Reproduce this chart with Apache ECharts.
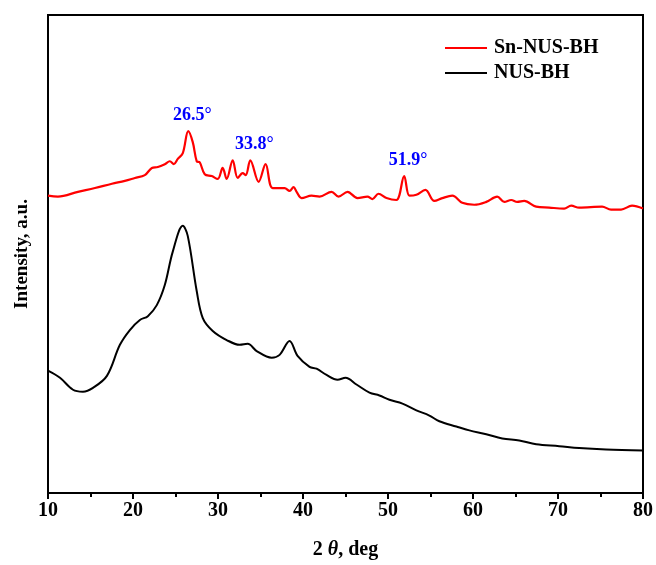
<!DOCTYPE html>
<html>
<head>
<meta charset="utf-8">
<script src="https://cdn.jsdelivr.net/npm/echarts@6/dist/echarts.min.js"></script>
<style>
  html, body { margin: 0; padding: 0; background: #fff; }
  #chart { width: 656px; height: 565px; }
</style>
</head>
<body>
<div id="chart"></div>
<script>
// XRD patterns: 2θ (deg) and intensity (a.u.)
const nusTheta = [10.0, 11.41, 12.94, 14.11, 15.29, 16.93, 18.46, 19.63, 20.81, 21.75, 22.80, 23.74, 24.68, 25.86, 26.44, 27.50, 28.21, 29.38, 31.02, 32.55, 33.49, 34.55, 36.31, 37.25, 38.42, 39.36, 40.77, 41.59, 42.77, 44.06, 45.00, 46.29, 47.82, 48.99, 50.17, 51.70, 53.34, 54.87, 56.04, 58.04, 59.57, 61.56, 63.44, 65.44, 67.43, 70.14, 72.49, 75.66, 80.0];
const nusIntensity = [25.6, 24.1, 21.6, 21.2, 22.0, 24.5, 31.0, 34.1, 36.2, 37.0, 39.3, 43.5, 50.5, 55.9, 53.8, 42.2, 36.6, 33.9, 32.0, 31.0, 31.2, 29.7, 28.3, 28.9, 31.8, 28.7, 26.4, 26.0, 24.7, 23.7, 24.1, 22.7, 21.0, 20.4, 19.5, 18.7, 17.3, 16.2, 15.0, 13.9, 13.1, 12.3, 11.4, 11.0, 10.2, 9.8, 9.4, 9.1, 8.9];

const snTheta = [10.0, 11.17, 13.52, 15.52, 17.52, 19.04, 20.22, 21.39, 22.22, 22.92, 23.74, 24.33, 24.80, 25.27, 25.86, 26.5, 27.03, 27.50, 27.85, 28.44, 29.26, 29.97, 30.55, 31.02, 31.73, 32.32, 32.90, 33.26, 33.8, 34.78, 35.60, 36.43, 37.84, 38.42, 38.89, 39.25, 39.83, 41.01, 41.95, 43.36, 44.18, 45.24, 46.41, 47.58, 48.17, 48.88, 49.82, 50.99, 51.9, 52.52, 53.34, 54.40, 55.45, 56.39, 57.57, 58.74, 60.15, 61.56, 62.85, 63.68, 64.50, 65.20, 66.03, 67.43, 68.96, 70.72, 71.55, 72.49, 75.19, 76.24, 77.42, 78.71, 80.0];
const snIntensity = [62.2, 62.0, 63.0, 63.8, 64.7, 65.3, 65.9, 66.5, 68.0, 68.2, 68.8, 69.4, 68.8, 69.9, 71.1, 75.7, 73.4, 69.4, 69.2, 66.7, 66.3, 65.7, 68.0, 65.7, 69.6, 65.9, 66.9, 66.5, 69.6, 65.1, 68.8, 63.8, 63.8, 63.2, 64.0, 63.0, 61.7, 62.2, 62.0, 63.0, 62.0, 63.0, 61.7, 62.0, 61.5, 62.6, 61.7, 61.3, 66.3, 62.2, 62.4, 63.4, 61.1, 61.7, 62.2, 60.7, 60.3, 60.9, 62.0, 60.9, 61.3, 60.9, 61.1, 59.9, 59.7, 59.5, 60.1, 59.7, 59.9, 59.3, 59.3, 60.1, 59.5];

// Labelled Sn-NUS-BH reflections (2θ, deg)
const peakPositions = [26.5, 33.8, 51.9];

const xTicks = { min: 10, max: 80, interval: 10 };

const FONT = '"Liberation Serif", "Times New Roman", serif';

const zip = (xs, ys) => xs.map((x, i) => [x, ys[i]]);
const peakMarks = peakPositions.map(p => {
  const i = snTheta.indexOf(p);
  return { coord: [p, snIntensity[i]], value: p };
});

const chart = echarts.init(document.getElementById('chart'), null, { renderer: 'canvas' });
chart.setOption({
  animation: false,
  backgroundColor: '#fff',
  grid: {
    left: 48, right: 12, top: 15, bottom: 69,
    show: true, borderColor: '#000', borderWidth: 2, backgroundColor: 'transparent'
  },
  legend: {
    orient: 'vertical',
    left: 440, top: 33,
    icon: 'rect',
    itemWidth: 42, itemHeight: 2,
    itemGap: 5,
    textStyle: { fontFamily: FONT, fontWeight: 'bold', fontSize: 20, color: '#000', padding: [0, 0, 0, 2] },
    data: ['Sn-NUS-BH', 'NUS-BH']
  },
  xAxis: {
    type: 'value',
    min: xTicks.min, max: xTicks.max, interval: xTicks.interval,
    name: '2 {i|θ}, deg',
    nameLocation: 'middle',
    nameGap: 47,
    nameTextStyle: {
      fontFamily: FONT, fontWeight: 'bold', fontSize: 20, color: '#000',
      rich: { i: { fontFamily: FONT, fontStyle: 'italic', fontWeight: 'bold', fontSize: 20, color: '#000' } }
    },
    axisLine: { show: true, onZero: false, lineStyle: { color: '#000', width: 2 } },
    axisTick: { show: true, inside: false, length: 6, lineStyle: { color: '#000', width: 2 } },
    minorTick: { show: true, splitNumber: 2, length: 4, lineStyle: { color: '#000', width: 2 } },
    axisLabel: { fontFamily: FONT, fontWeight: 'bold', fontSize: 20, color: '#000', margin: 8 },
    splitLine: { show: false }
  },
  yAxis: {
    type: 'value',
    min: 0, max: 100,
    name: 'Intensity, a.u.',
    nameLocation: 'middle',
    nameGap: 16,
    nameTextStyle: { fontFamily: FONT, fontWeight: 'bold', fontSize: 19, color: '#000' },
    axisLine: { show: true, lineStyle: { color: '#000', width: 2 } },
    axisTick: { show: false },
    axisLabel: { show: false },
    splitLine: { show: false }
  },
  series: [
    {
      name: 'Sn-NUS-BH',
      type: 'line',
      data: zip(snTheta, snIntensity),
      symbol: 'none',
      smooth: 0.35,
      lineStyle: { color: '#ff0000', width: 2.2 },
      itemStyle: { color: '#ff0000' },
      markPoint: {
        symbol: 'circle',
        symbolSize: 1,
        itemStyle: { color: 'transparent' },
        label: {
          show: true,
          position: 'top',
          distance: 6,
          offset: [4, 0],
          fontFamily: FONT, fontWeight: 'bold', fontSize: 18, color: '#0000ff',
          formatter: p => p.value.toFixed(1) + '°'
        },
        data: peakMarks
      }
    },
    {
      name: 'NUS-BH',
      type: 'line',
      data: zip(nusTheta, nusIntensity),
      symbol: 'none',
      smooth: 0.35,
      lineStyle: { color: '#000', width: 2 },
      itemStyle: { color: '#000' }
    }
  ]
});
</script>
</body>
</html>
